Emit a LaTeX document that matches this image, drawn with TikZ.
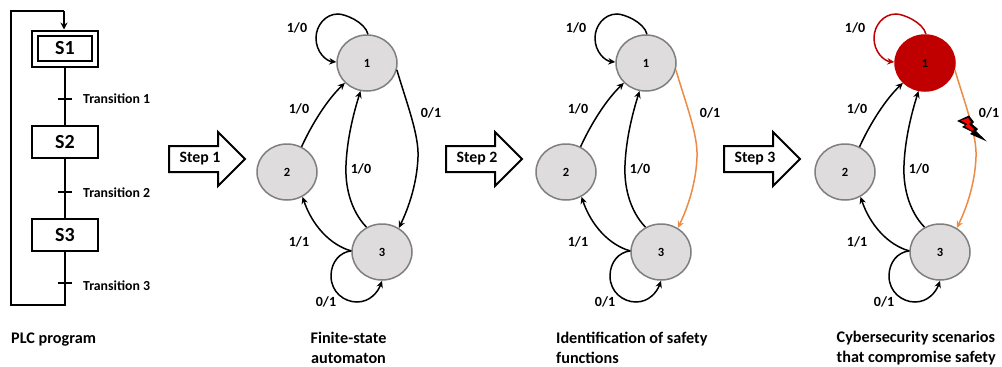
\documentclass[tikz,border=0pt]{standalone}
\usepackage{fontspec}
\setmainfont{Carlito}
\usetikzlibrary{shapes.geometric,arrows.meta}
\definecolor{stategray}{HTML}{DEDCDC}
\definecolor{stateedge}{HTML}{7F7F7F}
\definecolor{safeorange}{HTML}{ED8B45}
\definecolor{alarmred}{HTML}{C00000}
\tikzset{
  x=1pt,y=-1pt,
  sfcline/.style={line width=2pt,black},
  stepbox/.style={draw=black,line width=2pt,fill=white,minimum width=66pt,minimum height=32pt,inner sep=0pt,font=\fontsize{20}{20}\bfseries},
  tlabel/.style={font=\fontsize{13.8}{13.8}\bfseries,anchor=west,inner sep=0pt},
  caption/.style={font=\fontsize{16.2}{19.5}\bfseries,inner sep=0pt,align=center},
  fsmstate/.style={ellipse,draw=stateedge,line width=1.5pt,fill=stategray,minimum width=60pt,minimum height=56pt,inner sep=0pt,font=\fontsize{12.5}{12.5}\bfseries},
  fsmarrow/.style={line width=1.5pt,-{Stealth[length=7pt,width=6.5pt]}},
  edgelabel/.style={font=\fontsize{14}{14}\bfseries,inner sep=0pt},
  steparrow/.style={draw=black,line width=2pt,fill=white},
}
% #1 prefix, #2 x shift, #3 state-1 fill, #4 state-1 border, #5 loop colour, #6 colour of 1->3
\newcommand{\automaton}[6]{
  \begin{scope}[xshift=#2pt]
    \node[fsmstate,fill=#3,draw=#4] (#1a) at (367,63) {1};
    \node[fsmstate] (#1b) at (287,172) {2};
    \node[fsmstate] (#1c) at (382,252) {3};
    \draw[fsmarrow,draw=#5] (#1a.88) .. controls (365,22) and (345,14) .. (338,14) .. controls (325,14) and (316,26) .. (316,38) .. controls (316,52) and (326,61) .. (#1a.west |- 0,62);
    \draw[fsmarrow,draw=#6] (#1a.-13) .. controls (407,104) and (419,135) .. (418,157) .. controls (417,183) and (409,207) .. (#1c.55);
    \draw[fsmarrow] (#1b.60) .. controls (312,124) and (327,100) .. (#1a.-138);
    \draw[fsmarrow] (#1c.122) .. controls (350,210) and (345,185) .. (346,165) .. controls (347,140) and (353,115) .. (#1a.-103);
    \draw[fsmarrow] (#1c.178) .. controls (330,245) and (312,225) .. (#1b.-58);
    \draw[fsmarrow] (#1c.178) .. controls (340,252) and (331,262) .. (331,276) .. controls (331,292) and (344,302) .. (357,302) .. controls (370,302) and (378,292) .. (#1c.-90);
    \node[edgelabel] (#1l1) at (297,28) {1/0};
    \node[edgelabel] (#1l2) at (299,109) {1/0};
    \node[edgelabel] (#1l3) at (431,113) {0/1};
    \node[edgelabel] (#1l4) at (361,169) {1/0};
    \node[edgelabel] (#1l5) at (299,242) {1/1};
    \node[edgelabel] (#1l6) at (326,302) {0/1};
  \end{scope}
}
\newcommand{\bigstep}[3]{
  \draw[steparrow] (#1,146) -- (#1+49,146) -- (#1+49,132) -- (#1+76,159) -- (#1+49,186) -- (#1+49,172) -- (#1,172) -- cycle;
  \node[font=\fontsize{15.8}{15.8}\bfseries,inner sep=0pt] (#2) at (#1+31,159) {#3};
}
\begin{document}
\begin{tikzpicture}
\useasboundingbox (0,0) rectangle (1002,367);
\fill[white] (0,0) rectangle (1002,367);
% PLC program
\node[stepbox,minimum height=36pt] (s1o) at (65,48.5) {};
\node[stepbox,minimum width=54pt,minimum height=25pt] (s1) at (65,48.5) {S1};
\node[stepbox] (s2) at (65,142) {S2};
\node[stepbox] (s3) at (65,235) {S3};
\coordinate (ret1) at (65,305);
\coordinate (ret2) at (11,305);
\coordinate (ret3) at (11,11);
\coordinate (ret4) at (64,11);
\draw[sfcline] (s1o) -- (s2);
\draw[sfcline] (s2) -- (s3);
\draw[sfcline] (s3.south) -- (ret1) -- (ret2) -- (ret3) -- (ret4);
\draw[sfcline,-{Stealth[length=7pt,width=7pt]}] (ret4) -- (s1o.north -| ret4);
\foreach \y/\n in {99/1,192/2,283/3}{
  \coordinate (ta\n) at (58,\y);
  \coordinate (tb\n) at (72,\y);
  \draw[sfcline] (ta\n) -- (tb\n);
}
\node[tlabel] (t1) at (83,99) {Transition 1};
\node[tlabel] (t2) at (83,192.5) {Transition 2};
\node[tlabel] (t3) at (83,286) {Transition 3};
\bigstep{169}{st1}{Step 1}
\bigstep{446}{st2}{Step 2}
\bigstep{724}{st3}{Step 3}
\automaton{p}{0}{stategray}{stateedge}{black}{black}
\automaton{q}{279}{stategray}{stateedge}{black}{safeorange}
\automaton{r}{558}{alarmred}{alarmred}{alarmred}{safeorange}
% lightning bolt
\fill[black] (957,121) -- (969,115.5) -- (974,122) -- (972,124) -- (978,129) -- (976,131) -- (987,141.5) -- (970,134) -- (972,132) -- (962,127) -- (965,125) -- cycle;
\fill[red] (961,120.5) -- (968,118) -- (971,122) -- (968.5,124) -- (974,129) -- (972,131) -- (965,126) -- (967.5,124) -- cycle;
% captions
\node[caption,anchor=west] (c1) at (11,339.5) {PLC program};
\node[caption] (c2) at (348.5,348) {Finite-state\\automaton};
\node[caption,align=left,anchor=west] (c3) at (556,348) {Identification of safety\\functions};
\node[caption,align=left,anchor=west] (c4) at (836.5,348) {Cybersecurity scenarios\\that compromise safety};
\end{tikzpicture}
\end{document}
